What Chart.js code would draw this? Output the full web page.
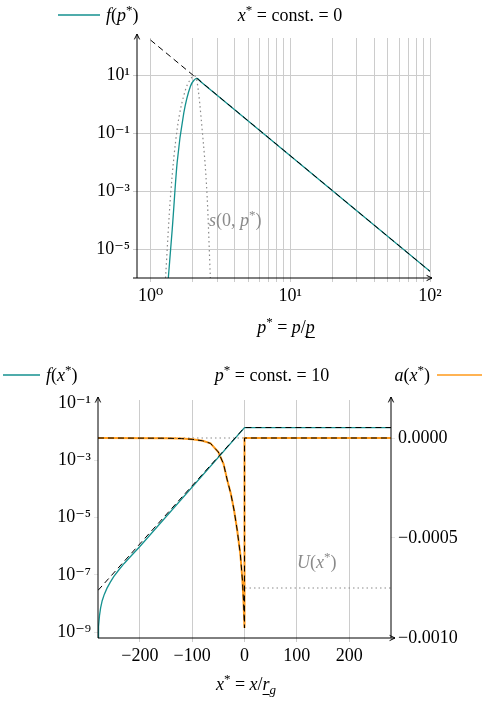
<!DOCTYPE html>
<html>
<head>
<meta charset="utf-8">
<script src="https://cdn.jsdelivr.net/npm/chart.js@4"></script>
<style>
  body { margin: 0; background: #fff; }
  #c1 { position: absolute; left: 0; top: 0; }
  #c2 { position: absolute; left: 0; top: 355px; }
</style>
</head>
<body>
<canvas id="c1" width="487" height="350"></canvas>
<canvas id="c2" width="487" height="351"></canvas>
<script>
// top panel: x* = const. = 0
const pTeal = [1.34, 1.43, 1.55, 1.73, 1.93, 2.05, 2.15, 2.3, 100];
const fTeal = [1e-6, 4.9e-5, 9.8e-3, 0.51, 4.3, 7.0, 8.0, 6.07, 1.7e-6];
const pAsym = [1, 100];
const fAsym = [170, 1.7e-6];
const pSrc = [1.28, 1.39, 1.55, 1.78, 1.92, 2.04, 2.15, 2.34, 2.54, 2.68];
const sSrc = [1e-6, 6.9e-4, 0.138, 3.3, 7.1, 10, 6.3, 0.138, 6.9e-4, 1e-6];
const pTicks = [1,2,3,4,5,6,7,8,9,10,20,30,40,50,60,70,80,90,100];
const fTicks = [10, 0.1, 1e-3, 1e-5];

// bottom panel: p* = const. = 10
const xTeal = [-280, -279, -277, -275, -272, -268, -263, -257, -250, -240, -230, -220, -200, 0, 280];
const logFx = [-9.2, -8.8, -8.4, -8.15, -7.9, -7.68, -7.47, -7.27, -7.06, -6.82, -6.6, -6.4, -6.01, -1.86, -1.86];
const xAsym = [-280, 0, 280];
const logFxAsym = [-7.54, -1.86, -1.86];
const xAcc = [-280, -150, -120, -100, -80, -65, -50, -40, -33, -26, -20, -14, -8, -4, -2, 0, 0, 280];
const aAcc = [0, -0.000001, -0.000003, -0.0000065, -0.000014, -0.000027, -0.00007, -0.00013, -0.00021, -0.00028, -0.00036, -0.00046, -0.00058, -0.00071, -0.00081, -0.00095, 0, 0];
const xU = [-280, 0, 0, 280];
const uVal = [0, 0, -0.00075, -0.00075];
const xTicks = [-200, -100, 0, 100, 200];
const fxTicks = [1e-1, 1e-3, 1e-5, 1e-7, 1e-9];
const aTicks = [0, -0.0005, -0.001];

const TEAL = '#14918f', ORANGE = '#ff9a1a', GRAY = '#8a8a8a', GRID = '#cccccc';
const SERIF = "'Liberation Serif', 'DejaVu Serif', serif";
const SUP = {'-': '⁻', '0': '⁰', '1': '¹', '2': '²', '3': '³', '5': '⁵', '7': '⁷', '9': '⁹'};
const pow10 = v => '10' + String(Math.round(Math.log10(v))).split('').map(c => SUP[c]).join('');
const zip = (xs, ys) => xs.map((x, i) => ({ x, y: ys[i] }));

function line(data, color, extra) {
    return Object.assign({ data, borderColor: color, borderWidth: 1.3, pointRadius: 0, showLine: true, fill: false }, extra);
}

// draws a run of text pieces: {t, i (italic), sup, sub, u (underline)}
function drawRun(ctx, x, y, pieces, color, align) {
    const size = 18;
    const font = (p, s) => (p.i ? 'italic ' : '') + s + 'px ' + SERIF;
    let total = 0;
    pieces.forEach(p => { ctx.font = font(p, p.sup || p.sub ? 13 : size); total += ctx.measureText(p.t).width; });
    let cx = align === 'center' ? x - total / 2 : align === 'right' ? x - total : x;
    ctx.fillStyle = color; ctx.textAlign = 'left'; ctx.textBaseline = 'alphabetic';
    pieces.forEach(p => {
        const s = p.sup || p.sub ? 13 : size;
        ctx.font = font(p, s);
        const dy = p.sup ? -7 : p.sub ? 4 : 0;
        ctx.fillText(p.t, cx, y + dy);
        const w = ctx.measureText(p.t).width;
        if (p.u) { ctx.fillRect(cx, y + 4, w, 1); }
        cx += w;
    });
}

function arrowLine(ctx, x1, y1, x2, y2) {
    ctx.beginPath(); ctx.moveTo(x1, y1); ctx.lineTo(x2, y2); ctx.stroke();
    const a = Math.atan2(y2 - y1, x2 - x1);
    ctx.beginPath();
    ctx.moveTo(x2 - 6 * Math.cos(a - 0.45), y2 - 6 * Math.sin(a - 0.45));
    ctx.lineTo(x2, y2);
    ctx.lineTo(x2 - 6 * Math.cos(a + 0.45), y2 - 6 * Math.sin(a + 0.45));
    ctx.stroke();
}

const tickFont = { family: SERIF, size: 18 };

new Chart(document.getElementById('c1'), {
    type: 'scatter',
    data: { datasets: [
        line(zip(pSrc, sSrc), GRAY, { order: 2, borderDash: [1.5, 3], borderWidth: 1.2, cubicInterpolationMode: 'monotone' }),
        line(zip(pTeal, fTeal), TEAL, { order: 1, cubicInterpolationMode: 'monotone' }),
        line(zip(pAsym, fAsym), '#000', { order: 0, borderDash: [6, 4], borderWidth: 1 })
    ] },
    options: {
        responsive: false, animation: false,
        layout: { padding: { top: 38, right: 57, left: 0, bottom: 0 } },
        plugins: { legend: { display: false }, tooltip: { enabled: false } },
        scales: {
            x: { type: 'logarithmic', min: 0.8, max: 100,
                afterBuildTicks: s => { s.ticks = pTicks.map(v => ({ value: v })); },
                afterFit: s => { s.height = 72; },
                border: { display: false },
                grid: { color: GRID, tickLength: 4 },
                ticks: { font: tickFont, color: '#000', maxRotation: 0, autoSkip: false,
                    callback: v => [1, 10, 100].includes(v) ? pow10(v) : '' } },
            y: { type: 'logarithmic', min: 1e-6, max: 200,
                afterBuildTicks: s => { s.ticks = fTicks.map(v => ({ value: v })); },
                afterFit: s => { s.width = 137; },
                border: { display: false },
                grid: { color: GRID, tickLength: 4 },
                ticks: { font: tickFont, color: '#000', callback: v => pow10(v) } }
        }
    },
    plugins: [{ id: 'deco1', afterDraw(chart) {
        const ctx = chart.ctx, a = chart.chartArea;
        ctx.save();
        ctx.strokeStyle = '#000'; ctx.lineWidth = 1;
        arrowLine(ctx, a.left, a.bottom, a.left, a.top - 4);
        arrowLine(ctx, a.left - 4, a.bottom, a.right + 2, a.bottom);
        ctx.strokeStyle = TEAL; ctx.lineWidth = 1.3;
        ctx.beginPath(); ctx.moveTo(58, 15); ctx.lineTo(100, 15); ctx.stroke();
        drawRun(ctx, 106, 21, [{ t: 'f', i: 1 }, { t: '(' }, { t: 'p', i: 1 }, { t: '*', sup: 1 }, { t: ')' }], '#000');
        drawRun(ctx, 290, 21, [{ t: 'x', i: 1 }, { t: '*', sup: 1 }, { t: ' = const. = 0' }], '#000', 'center');
        drawRun(ctx, 209, 226, [{ t: 's', i: 1 }, { t: '(0, ' }, { t: 'p', i: 1 }, { t: '*', sup: 1 }, { t: ')' }], GRAY);
        drawRun(ctx, 286, 333, [{ t: 'p', i: 1 }, { t: '*', sup: 1 }, { t: ' = ' }, { t: 'p', i: 1 }, { t: '/' }, { t: 'p', i: 1, u: 1 }], '#000', 'center');
        ctx.restore();
    } }]
});

new Chart(document.getElementById('c2'), {
    type: 'scatter',
    data: { datasets: [
        line(zip(xU, uVal), GRAY, { order: 3, yAxisID: 'y2', borderDash: [1.5, 3], borderWidth: 1.2 }),
        line(zip(xTeal, logFx.map(v => Math.pow(10, v))), TEAL, { order: 2 }),
        line(zip(xAcc, aAcc), ORANGE, { order: 2, yAxisID: 'y2', borderWidth: 2 }),
        line(zip(xAsym, logFxAsym.map(v => Math.pow(10, v))), '#000', { order: 0, borderDash: [6, 4], borderWidth: 1 }),
        line(zip(xAcc, aAcc), '#000', { order: 0, yAxisID: 'y2', borderDash: [6, 4], borderWidth: 1 })
    ] },
    options: {
        responsive: false, animation: false,
        layout: { padding: { top: 45, right: 0, left: 0, bottom: 0 } },
        plugins: { legend: { display: false }, tooltip: { enabled: false } },
        scales: {
            x: { type: 'linear', min: -280, max: 280,
                afterBuildTicks: s => { s.ticks = xTicks.map(v => ({ value: v })); },
                afterFit: s => { s.height = 68; },
                border: { display: false },
                grid: { color: GRID, tickLength: 4 },
                ticks: { font: tickFont, color: '#000', callback: v => String(v).replace('-', '−') } },
            y: { type: 'logarithmic', position: 'left', min: Math.pow(10, -9.2), max: Math.pow(10, -0.9),
                afterBuildTicks: s => { s.ticks = fxTicks.map(v => ({ value: v })); },
                afterFit: s => { s.width = 98; },
                border: { display: false },
                grid: { drawOnChartArea: false, tickLength: 4 },
                ticks: { font: tickFont, color: '#000', callback: v => pow10(v) } },
            y2: { type: 'linear', position: 'right', min: -0.001, max: 0.00019,
                afterBuildTicks: s => { s.ticks = aTicks.map(v => ({ value: v })); },
                afterFit: s => { s.width = 96; },
                border: { display: false },
                grid: { drawOnChartArea: false, tickLength: 4 },
                ticks: { font: tickFont, color: '#000', callback: v => (v < 0 ? '−' : '') + Math.abs(v).toFixed(4) } }
        }
    },
    plugins: [{ id: 'deco2', afterDraw(chart) {
        const ctx = chart.ctx, a = chart.chartArea;
        ctx.save();
        ctx.strokeStyle = '#000'; ctx.lineWidth = 1;
        arrowLine(ctx, a.left, a.bottom, a.left, a.top - 3);
        arrowLine(ctx, a.right, a.bottom, a.right, a.top - 3);
        arrowLine(ctx, a.left, a.bottom, a.right + 4, a.bottom);
        ctx.lineWidth = 1.3;
        ctx.strokeStyle = TEAL;
        ctx.beginPath(); ctx.moveTo(3, 20); ctx.lineTo(40, 20); ctx.stroke();
        drawRun(ctx, 46, 26, [{ t: 'f', i: 1 }, { t: '(' }, { t: 'x', i: 1 }, { t: '*', sup: 1 }, { t: ')' }], '#000');
        drawRun(ctx, 272, 26, [{ t: 'p', i: 1 }, { t: '*', sup: 1 }, { t: ' = const. = 10' }], '#000', 'center');
        drawRun(ctx, 430, 26, [{ t: 'a', i: 1 }, { t: '(' }, { t: 'x', i: 1 }, { t: '*', sup: 1 }, { t: ')' }], '#000', 'right');
        ctx.strokeStyle = ORANGE;
        ctx.beginPath(); ctx.moveTo(437, 20); ctx.lineTo(482, 20); ctx.stroke();
        drawRun(ctx, 297, 213, [{ t: 'U', i: 1 }, { t: '(' }, { t: 'x', i: 1 }, { t: '*', sup: 1 }, { t: ')' }], GRAY);
        drawRun(ctx, 246, 335, [{ t: 'x', i: 1 }, { t: '*', sup: 1 }, { t: ' = ' }, { t: 'x', i: 1 }, { t: '/' }, { t: 'r', i: 1, u: 1 }, { t: 'g', i: 1, sub: 1 }], '#000', 'center');
        ctx.restore();
    } }]
});
</script>
</body>
</html>
